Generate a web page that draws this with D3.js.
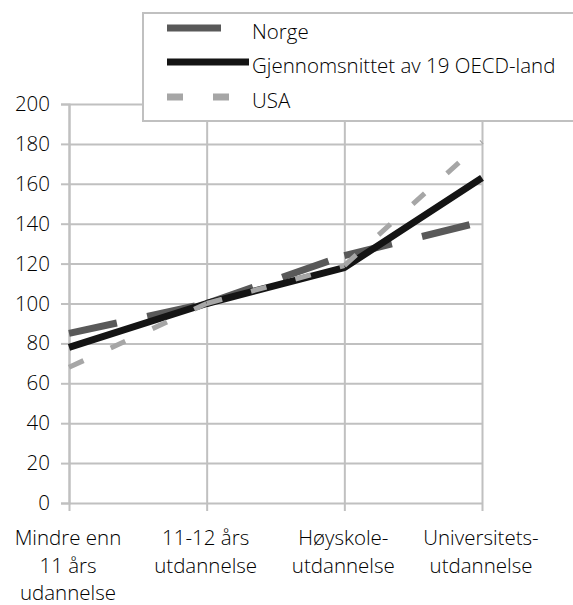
<!DOCTYPE html>
<html>
<head>
<meta charset="utf-8">
<script src="https://cdn.jsdelivr.net/npm/d3@7"></script>
<style>
  html, body { margin: 0; padding: 0; background: #fff; }
  svg { display: block; font-family: "Open Sans", "Noto Sans", sans-serif; font-weight: 300; }
</style>
</head>
<body>
<svg id="chart" width="573" height="605"></svg>
<script>
// ---- data ----
const categories = [
  ["Mindre enn", "11 års", "udannelse"],
  ["11-12 års", "utdannelse"],
  ["Høyskole-", "utdannelse"],
  ["Universitets-", "utdannelse"]
];
const seriesNames = ["Norge", "Gjennomsnittet av 19 OECD-land", "USA"];
const norge = [85, 100, 124, 141];
const oecd  = [78, 100, 118, 163];
const usa   = [68, 100, 119, 181];
const yTicks = [0, 20, 40, 60, 80, 100, 120, 140, 160, 180, 200];

// ---- layout ----
const svg = d3.select("#chart");
const pLeft = 69, pRight = 482, pTop = 104, pBottom = 503;
const grid = "#c0c0c0";
const fontSize = 20.5;

const catKeys = categories.map((c, i) => i);
const x = d3.scalePoint().domain(catKeys).range([pLeft, pRight]).padding(0);
const y = d3.scaleLinear().domain([0, 200]).range([pBottom, pTop]);

// horizontal gridlines
svg.append("g")
  .attr("transform", `translate(${pLeft},0)`)
  .call(d3.axisLeft(y).tickValues(yTicks).tickSize(-(pRight - pLeft)).tickFormat(""))
  .call(g => g.select(".domain").remove())
  .call(g => g.selectAll("line").attr("stroke", grid).attr("stroke-width", 2));

// y axis with outer ticks and labels
svg.append("g")
  .attr("transform", `translate(${pLeft},0)`)
  .call(d3.axisLeft(y).tickValues(yTicks).tickSize(8).tickPadding(11))
  .call(g => g.select(".domain").attr("stroke", grid).attr("stroke-width", 2))
  .call(g => g.selectAll("line").attr("stroke", grid).attr("stroke-width", 2))
  .call(g => g.selectAll("text").attr("font-size", fontSize).attr("fill", "#000")
    .attr("font-family", "'Open Sans', sans-serif").attr("font-weight", 300));

// vertical gridlines + x ticks
svg.append("g")
  .attr("transform", `translate(0,${pBottom + 8})`)
  .call(d3.axisBottom(x).tickSize(-(pBottom + 8 - pTop)).tickFormat(""))
  .call(g => g.select(".domain").remove())
  .call(g => g.selectAll("line").attr("stroke", grid).attr("stroke-width", 2));

// category labels
const lbl = svg.append("g").attr("font-size", fontSize).attr("text-anchor", "middle").attr("fill", "#000");
categories.forEach((lines, i) => {
  const t = lbl.append("text").attr("x", x(i) - 1).attr("y", 545);
  lines.forEach((ln, j) => {
    t.append("tspan").attr("x", x(i) - 1).attr("dy", j === 0 ? 0 : 27.5).text(ln);
  });
});

// ---- series lines (dash pattern restarts per segment, like the source) ----
const styles = [
  { data: norge, color: "#595959", width: 7, dash: "49 31" },
  { data: oecd,  color: "#141414", width: 7, dash: null },
  { data: usa,   color: "#a6a6a6", width: 5, dash: "16 30" }
];
const lineGen = d3.line().x(d => x(d[0])).y(d => y(d[1]));

styles.forEach(s => {
  const g = svg.append("g");
  if (!s.dash) {
    g.append("path")
      .attr("d", lineGen(s.data.map((v, i) => [i, v])))
      .attr("fill", "none").attr("stroke", s.color).attr("stroke-width", s.width)
      .attr("stroke-linejoin", "round");
  } else {
    for (let i = 0; i < s.data.length - 1; i++) {
      g.append("path")
        .attr("d", lineGen([[i, s.data[i]], [i + 1, s.data[i + 1]]]))
        .attr("fill", "none").attr("stroke", s.color).attr("stroke-width", s.width)
        .attr("stroke-dasharray", s.dash);
    }
  }
});

// ---- legend ----
const lg = svg.append("g");
lg.append("rect").attr("x", 143).attr("y", 13).attr("width", 500).attr("height", 108)
  .attr("fill", "#fff").attr("stroke", grid).attr("stroke-width", 2);
const legY = [28, 62, 97];
const legSample = [
  { x1: 167, x2: 221, dash: null },
  { x1: 167, x2: 249, dash: null },
  { x1: 167, x2: 229, dash: "16 30" }
];
seriesNames.forEach((name, i) => {
  lg.append("line").attr("x1", legSample[i].x1).attr("x2", legSample[i].x2)
    .attr("y1", legY[i]).attr("y2", legY[i])
    .attr("stroke", styles[i].color).attr("stroke-width", 7)
    .attr("stroke-dasharray", legSample[i].dash);
  lg.append("text").attr("x", 252).attr("y", legY[i] + 11)
    .attr("font-size", fontSize).attr("fill", "#000").text(name);
});
</script>
</body>
</html>
